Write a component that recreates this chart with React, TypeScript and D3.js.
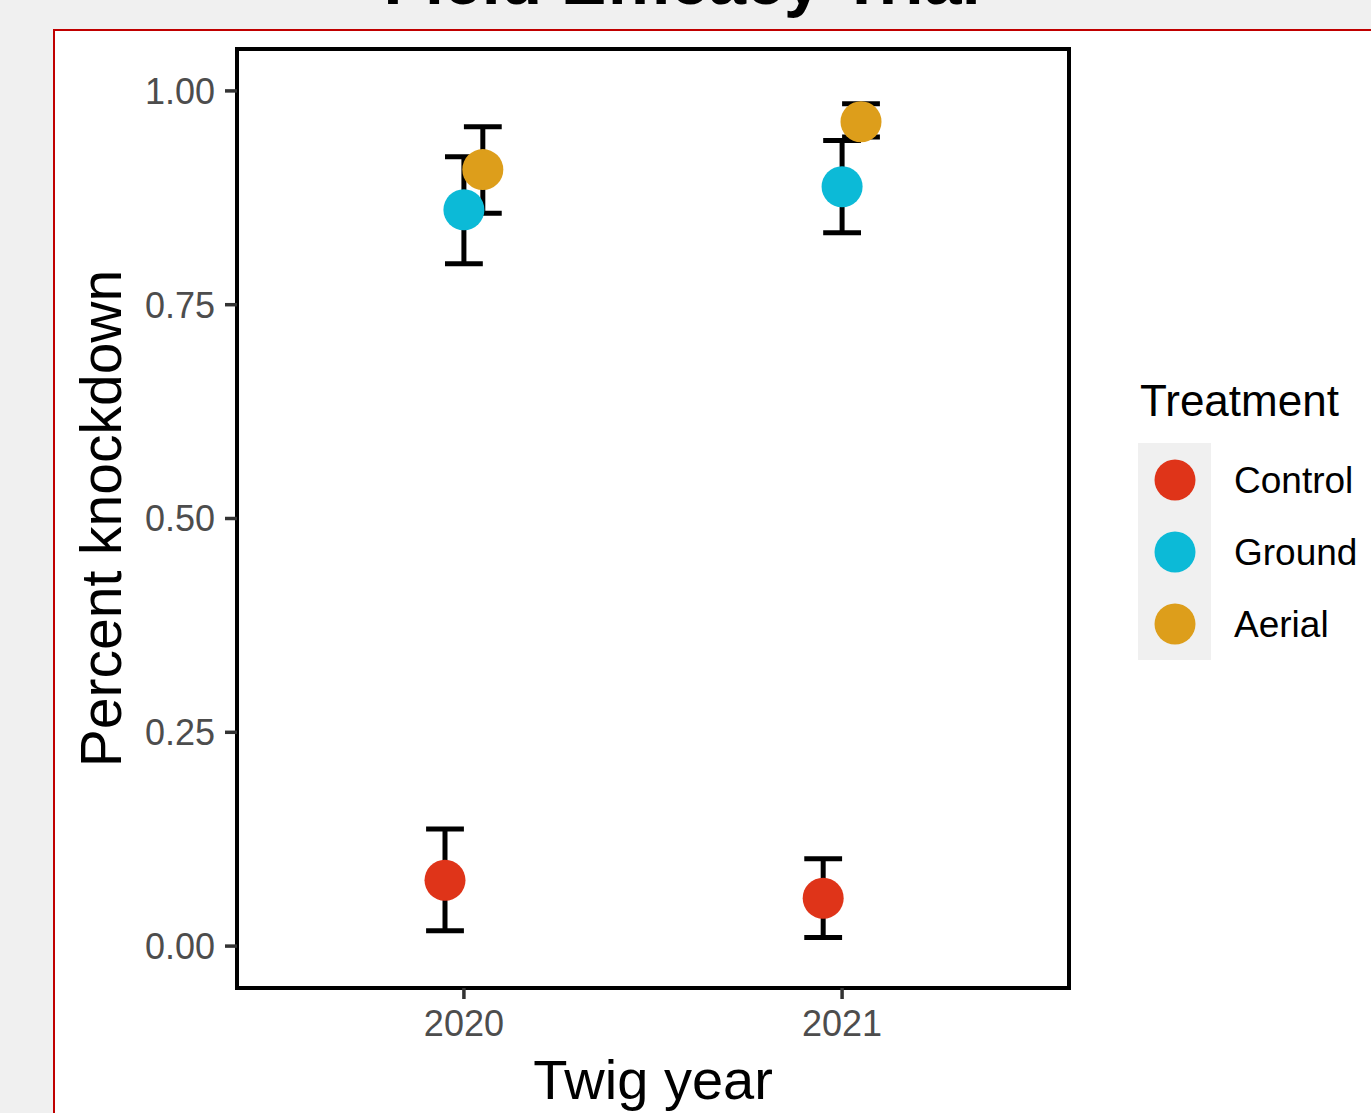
import React from "react";
import * as d3 from "d3";

const years = ["2020", "2021"];
const treatments = ["Control", "Ground", "Aerial"];
const colors = ["#DF3419", "#0CBAD7", "#DD9E1B"];
// mean, lower, upper per treatment, per year
const controlMean = [0.077, 0.056];
const controlLow = [0.018, 0.010];
const controlHigh = [0.137, 0.102];
const groundMean = [0.861, 0.888];
const groundLow = [0.798, 0.834];
const groundHigh = [0.923, 0.942];
const aerialMean = [0.908, 0.964];
const aerialLow = [0.857, 0.946];
const aerialHigh = [0.958, 0.985];
const yTicks = [0, 0.25, 0.5, 0.75, 1.0];

const means = [controlMean, groundMean, aerialMean];
const lows = [controlLow, groundLow, aerialLow];
const highs = [controlHigh, groundHigh, aerialHigh];

const FONT = "'Liberation Sans', Arial, sans-serif";

export default function App() {
  const W = 1371, H = 1113;
  const px0 = 237, px1 = 1069, py0 = 49, py1 = 988;
  const x = d3.scalePoint<string>().domain(years).range([px0, px1]).padding(0.6);
  const step = x.step();
  const dodgeW = 0.15 * step;
  const dodge = d3.scaleBand<string>().domain(treatments).range([-dodgeW / 2, dodgeW / 2]);
  const y = d3.scaleLinear().domain([-0.049, 1.049]).range([py1, py0]);
  const capW = 0.1 * step;
  const r = 20.5;

  const rows: any[] = [];
  treatments.forEach((t, ti) => {
    years.forEach((yr, yi) => {
      rows.push({ t, ti, yr, mean: means[ti][yi], lo: lows[ti][yi], hi: highs[ti][yi] });
    });
  });
  const cx = (d: any) => (x(d.yr) as number) + (dodge(d.t) as number) + dodge.bandwidth() / 2;

  return (
    <svg width={W} height={H} style={{ position: "absolute", left: 0, top: 0, display: "block" }} fontFamily={FONT}>
      <rect x={0} y={0} width={W} height={H} fill="#f0f0f0" />
      <text x={682} y={3.5} textAnchor="middle" fontSize={68} fontWeight="bold" fill="#000">Field Efficacy Trial</text>
      <rect x={54} y={30} width={W} height={H} fill="#ffffff" stroke="#c00000" strokeWidth={2} />
      {/* panel */}
      <rect x={px0} y={py0} width={px1 - px0} height={py1 - py0} fill="#fff" />
      {/* error bars */}
      {rows.map((d, i) => {
        const c = cx(d);
        return (
          <g key={"e" + i} stroke="#000" strokeWidth={5}>
            <line x1={c} x2={c} y1={y(d.lo)} y2={y(d.hi)} />
            <line x1={c - capW / 2} x2={c + capW / 2} y1={y(d.lo)} y2={y(d.lo)} />
            <line x1={c - capW / 2} x2={c + capW / 2} y1={y(d.hi)} y2={y(d.hi)} />
          </g>
        );
      })}
      {rows.map((d, i) => (
        <circle key={"p" + i} cx={cx(d)} cy={y(d.mean)} r={r} fill={colors[d.ti]} />
      ))}
      <rect x={px0} y={py0} width={px1 - px0} height={py1 - py0} fill="none" stroke="#000" strokeWidth={4} />
      {/* y axis */}
      {yTicks.map((t) => (
        <g key={"y" + t}>
          <line x1={px0 - 12} x2={px0} y1={y(t)} y2={y(t)} stroke="#333" strokeWidth={3.5} />
          <text x={px0 - 22} y={y(t)} dy="0.36em" textAnchor="end" fontSize={36} fill="#4d4d4d">{d3.format(".2f")(t)}</text>
        </g>
      ))}
      {/* x axis */}
      {years.map((yr) => (
        <g key={"x" + yr}>
          <line x1={x(yr)} x2={x(yr)} y1={py1} y2={py1 + 11} stroke="#333" strokeWidth={3.5} />
          <text x={x(yr)} y={1036} textAnchor="middle" fontSize={36} fill="#4d4d4d">{yr}</text>
        </g>
      ))}
      <text x={(px0 + px1) / 2} y={1099} textAnchor="middle" fontSize={56} fill="#000">Twig year</text>
      <text transform={`translate(121,${(py0 + py1) / 2}) rotate(-90)`} textAnchor="middle" fontSize={57} fill="#000">Percent knockdown</text>
      {/* legend */}
      <text x={1140} y={416} fontSize={44} fill="#000">Treatment</text>
      <rect x={1138} y={443} width={73} height={217} fill="#f0f0f0" />
      {treatments.map((t, i) => (
        <g key={"l" + t}>
          <circle cx={1175} cy={480 + i * 72} r={r} fill={colors[i]} />
          <text x={1234} y={480 + i * 72} dy="0.36em" fontSize={37} fill="#000">{t}</text>
        </g>
      ))}
    </svg>
  );
}
